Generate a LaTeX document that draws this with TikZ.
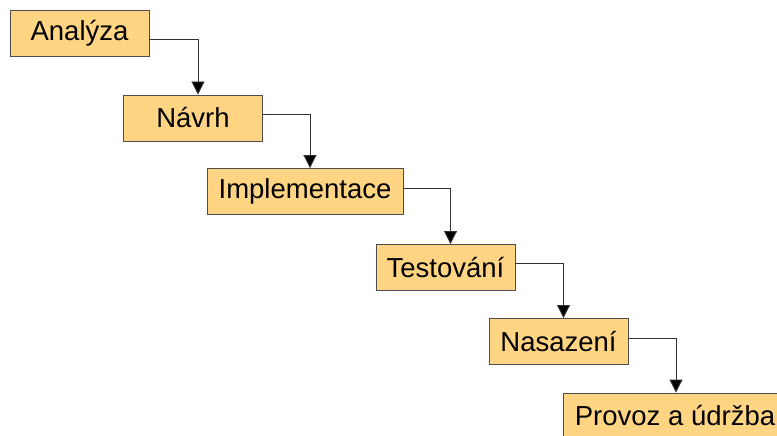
\documentclass[tikz,border=0pt]{standalone}
\usepackage{fontspec}
\setmainfont{Liberation Sans}
\usetikzlibrary{arrows.meta}
\definecolor{stepfill}{HTML}{FFD583}
\definecolor{stepline}{HTML}{4D4D4D}

\begin{document}
\begin{tikzpicture}[
  x=1pt, y=-1pt,
  phase/.style={draw=stepline, fill=stepfill, line width=0.9pt,
    minimum width=139pt, minimum height=46pt, inner sep=0pt,
    font=\fontsize{27.5}{30}\selectfont},
  flow/.style={draw=black!80, line width=0.9pt,
    -{Triangle[length=13pt, width=13pt, fill=black]}},
]
  \useasboundingbox (0,0) rectangle (777,436);

  % Phases
  \node[phase] (ana) at (79.5, 33) {Analýza};
  \node[phase] (nav) at (193, 118) {Návrh};
  \node[phase, minimum width=196pt] (imp) at (305, 191.5) {Implementace};
  \node[phase] (tes) at (445.5, 267.5) {Testování};
  \node[phase] (nas) at (558.5, 341.5) {Nasazení};
  \node[phase, minimum width=224pt] (pro) at (675, 416) {Provoz a údržba};

  % Connectors
  \foreach \a/\b/\dy/\dx in {ana/nav/-6pt/5pt, nav/imp/4pt/5pt, imp/tes/3.5pt/5pt,
      tes/nas/4.5pt/5pt, nas/pro/3.5pt/1pt} {
    \draw[flow] ([yshift=\dy]\a.east) -| ([xshift=\dx]\b.north);
  }
\end{tikzpicture}
\end{document}
